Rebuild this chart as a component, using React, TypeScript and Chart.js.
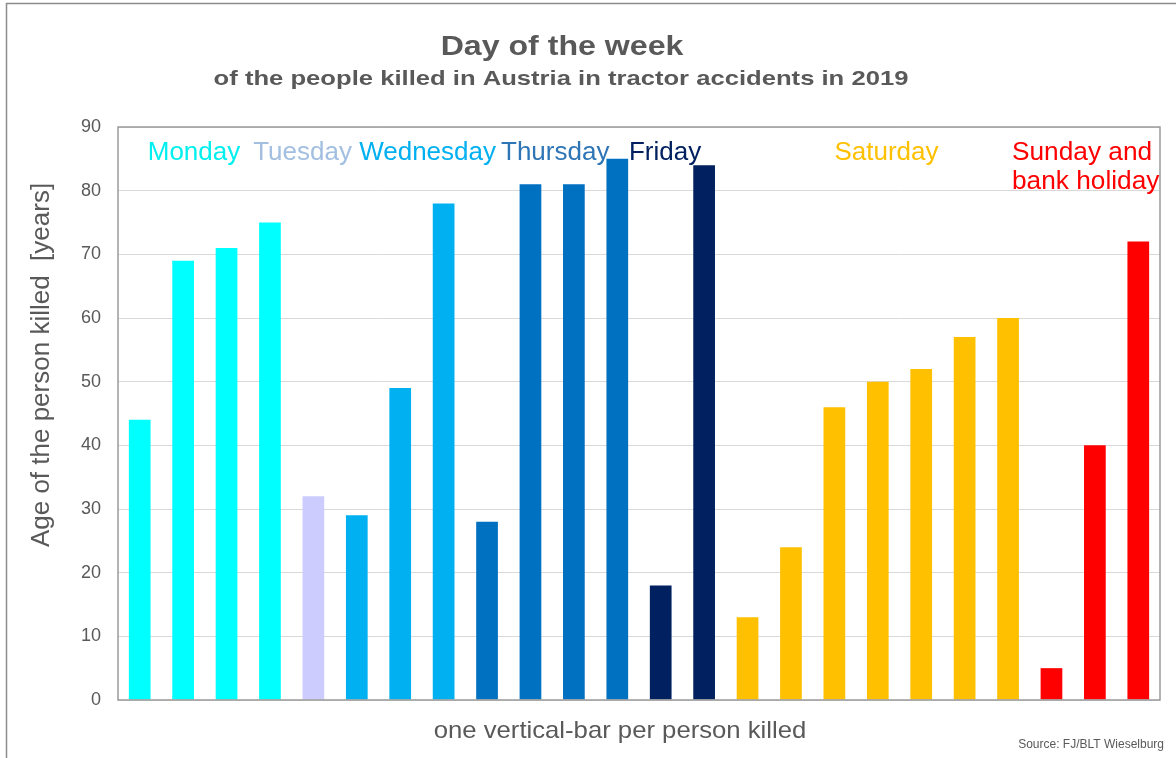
import React, { useEffect, useRef } from "react";
import { Chart, registerables } from "chart.js";

Chart.register(...registerables);

const mondayAges = [44, 69, 71, 75];
const tuesdayAges = [32];
const wednesdayAges = [29, 49, 78];
const thursdayAges = [28, 81, 81, 85];
const fridayAges = [18, 84];
const saturdayAges = [13, 24, 46, 50, 52, 57, 60];
const sundayAges = [5, 40, 72];

const dayNames = ["Monday", "Tuesday", "Wednesday", "Thursday", "Friday", "Saturday", "Sunday and bank holiday"];
const dayBarColors = ["#00FFFF", "#CCCCFF", "#00B0F0", "#0070C0", "#002060", "#FFC000", "#FF0000"];
const dayTextColors = ["#00F0F0", "#A2BFE2", "#00B0F0", "#2E75B6", "#002060", "#FFC000", "#FF0000"];
// label anchor, in category-index units
const dayLabelAnchor = [1.25, 3.75, 6.63, 9.57, 12.1, 17.2, 21.8];

const yTicks = [0, 10, 20, 30, 40, 50, 60, 70, 80, 90];

const titleText = "Day of the week";
const subtitleText = "of the people killed in Austria in tractor accidents in 2019";
const yTitle = "Age of the person killed  [years]";
const xTitle = "one vertical-bar per person killed";
const sourceText = "Source: FJ/BLT Wieselburg";

const FONT = '"Liberation Sans", Arial, sans-serif';

function drawText(ctx: any, text: string, x: number, y: number, font: string, sx: number, align: string) {
  ctx.save();
  ctx.translate(x, y);
  ctx.scale(sx, 1);
  ctx.font = font;
  ctx.textAlign = align;
  ctx.fillText(text, 0, 0);
  ctx.restore();
}

export default function App() {
  const ref = useRef<HTMLCanvasElement | null>(null);

  useEffect(() => {
    const groups = [mondayAges, tuesdayAges, wednesdayAges, thursdayAges, fridayAges, saturdayAges, sundayAges];
    const values: number[] = [];
    const colors: string[] = [];
    const labels: string[] = [];
    groups.forEach((g, gi) => {
      g.forEach((v, i) => {
        values.push(v);
        colors.push(dayBarColors[gi]);
        labels.push(dayNames[gi] + " " + (i + 1));
      });
    });

    const decor = {
      id: "decor",
      afterDraw(chart: any) {
        const ctx = chart.ctx;
        const a = chart.chartArea;
        const xs = chart.scales.x;
        ctx.save();
        // plot border
        ctx.strokeStyle = "#9A9A9A";
        ctx.lineWidth = 1.5;
        ctx.strokeRect(a.left, a.top, a.right - a.left, a.bottom - a.top);
        // outer frame
        ctx.strokeStyle = "#8C8C8C";
        ctx.lineWidth = 1.5;
        ctx.strokeRect(6.5, 3.5, 1300, 900);

        ctx.fillStyle = "#595959";
        ctx.textBaseline = "middle";
        drawText(ctx, titleText, 562, 47, "bold 28px " + FONT, 1.147, "center");
        drawText(ctx, subtitleText, 561, 79, "bold 21px " + FONT, 1.22, "center");
        drawText(ctx, xTitle, 620, 731, "24px " + FONT, 1.07, "center");

        ctx.save();
        ctx.translate(42, 365);
        ctx.rotate(-Math.PI / 2);
        ctx.font = "26px " + FONT;
        ctx.textAlign = "center";
        ctx.fillText(yTitle, 0, 0);
        ctx.restore();

        drawText(ctx, sourceText, 1164, 745, "12px " + FONT, 1.0, "right");

        // day labels
        const dayFont = "25px " + FONT;
        const x0 = xs.getPixelForValue(0);
        const step = xs.getPixelForValue(1) - x0;
        dayNames.forEach((name, i) => {
          ctx.fillStyle = dayTextColors[i];
          const cx = x0 + dayLabelAnchor[i] * step;
          if (name === "Sunday and bank holiday") {
            drawText(ctx, "Sunday and", 1012, a.top + 26, dayFont, 1.05, "left");
            drawText(ctx, "bank holiday", 1012, a.top + 55, dayFont, 1.05, "left");
          } else {
            drawText(ctx, name, cx, a.top + 26, dayFont, 1.04, "center");
          }
        });
        ctx.restore();
      },
    };

    const chart = new Chart(ref.current as HTMLCanvasElement, {
      type: "bar",
      data: {
        labels,
        datasets: [
          {
            data: values,
            backgroundColor: colors,
            barPercentage: 0.5,
            categoryPercentage: 1,
          },
        ],
      },
      options: {
        responsive: false,
        animation: false,
        devicePixelRatio: 1,
        layout: { padding: { left: 0, top: 127, right: 16, bottom: 0 } },
        plugins: {
          legend: { display: false },
          tooltip: { enabled: false },
          title: { display: false },
        },
        scales: {
          x: {
            grid: { display: false },
            ticks: { display: false },
            border: { display: false },
            afterFit: (s: any) => {
              s.height = 58;
            },
          },
          y: {
            min: yTicks[0],
            max: yTicks[yTicks.length - 1],
            afterBuildTicks: (s: any) => {
              s.ticks = yTicks.map((v) => ({ value: v }));
            },
            ticks: {
              padding: 17,
              color: "#595959",
              font: { size: 18, family: FONT },
            },
            grid: { color: "#D9D9D9", drawTicks: false, lineWidth: 1 },
            border: { display: false },
            afterFit: (s: any) => {
              s.width = 118;
            },
          },
        },
      },
      plugins: [decor],
    } as any);

    return () => chart.destroy();
  }, []);

  return (
    <div style={{ position: "fixed", left: 0, top: 0, width: 1176, height: 758, background: "#fff" }}>
      <canvas ref={ref} width={1176} height={758} style={{ width: 1176, height: 758, display: "block" }} />
    </div>
  );
}
